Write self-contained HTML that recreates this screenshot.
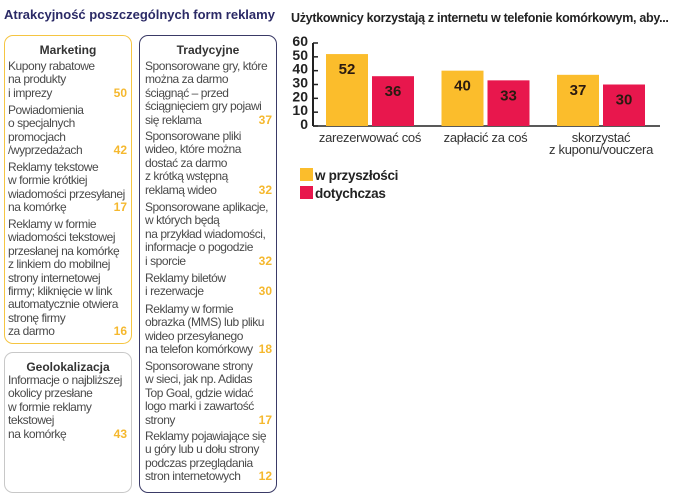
<!DOCTYPE html>
<html><head><meta charset="utf-8"><style>
body{margin:0;width:685px;height:498px;background:#fff;position:relative;overflow:hidden;font-family:"Liberation Sans",sans-serif;}
.box{position:absolute;border:1.5px solid;border-radius:9px;box-sizing:border-box;}
.hd{position:absolute;font-weight:bold;font-size:12px;color:#333;text-align:center;}
.e{position:absolute;font-size:12px;letter-spacing:-0.45px;line-height:13.4px;color:#4a4a4a;white-space:nowrap;}
.n{position:absolute;right:0;bottom:0;font-weight:bold;color:#f5b82e;font-size:12px;letter-spacing:0;}
.t{position:absolute;font-weight:bold;color:#2b2a66;font-size:13px;white-space:nowrap;}
</style></head><body>
<div class="t" style="left:4px;top:7px;">Atrakcyjność poszczególnych form reklamy</div>

<div class="box" style="left:4px;top:35px;width:128px;height:309px;border-color:#f5c542;"></div>
<div class="hd" style="left:4px;width:128px;top:43px;">Marketing</div>
<div class="box" style="left:4px;top:352px;width:128px;height:141px;border-color:#c8c8c8;"></div>
<div class="hd" style="left:4px;width:128px;top:360px;">Geolokalizacja</div>
<div class="box" style="left:139px;top:35px;width:138px;height:458px;border-color:#3a3a66;"></div>
<div class="hd" style="left:139px;width:138px;top:43px;">Tradycyjne</div>

<div class="e" style="left:8px;width:119px;top:60px;">Kupony rabatowe<br>na produkty<br>i imprezy<span class="n">50</span></div>
<div class="e" style="left:8px;width:119px;top:104px;">Powiadomienia<br>o specjalnych<br>promocjach<br>/wyprzedażach<span class="n">42</span></div>
<div class="e" style="left:8px;width:119px;top:161px;">Reklamy tekstowe<br>w formie krótkiej<br>wiadomości przesyłanej<br>na komórkę<span class="n">17</span></div>
<div class="e" style="left:8px;width:119px;top:218px;">Reklamy w formie<br>wiadomości tekstowej<br>przesłanej na komórkę<br>z linkiem do mobilnej<br>strony internetowej<br>firmy; kliknięcie w link<br>automatycznie otwiera<br>stronę firmy<br>za darmo<span class="n">16</span></div>
<div class="e" style="left:8px;width:119px;top:374px;">Informacje o najbliższej<br>okolicy przesłane<br>w formie reklamy<br>tekstowej<br>na komórkę<span class="n">43</span></div>

<div class="e" style="left:145px;width:127px;top:60px;">Sponsorowane gry, które<br>można za darmo<br>ściągnąć – przed<br>ściągnięciem gry pojawi<br>się reklama<span class="n">37</span></div>
<div class="e" style="left:145px;width:127px;top:130px;">Sponsorowane pliki<br>wideo, które można<br>dostać za darmo<br>z krótką wstępną<br>reklamą wideo<span class="n">32</span></div>
<div class="e" style="left:145px;width:127px;top:201px;">Sponsorowane aplikacje,<br>w których będą<br>na przykład wiadomości,<br>informacje o pogodzie<br>i sporcie<span class="n">32</span></div>
<div class="e" style="left:145px;width:127px;top:272px;">Reklamy biletów<br>i rezerwacje<span class="n">30</span></div>
<div class="e" style="left:145px;width:127px;top:303px;">Reklamy w formie<br>obrazka (MMS) lub pliku<br>wideo przesyłanego<br>na telefon komórkowy<span class="n">18</span></div>
<div class="e" style="left:145px;width:127px;top:360px;">Sponsorowane strony<br>w sieci, jak np. Adidas<br>Top Goal, gdzie widać<br>logo marki i zawartość<br>strony<span class="n">17</span></div>
<div class="e" style="left:145px;width:127px;top:430px;">Reklamy pojawiające się<br>u góry lub u dołu strony<br>podczas przeglądania<br>stron internetowych<span class="n">12</span></div>

<div class="t" style="left:291px;top:11px;color:#222;font-size:12.5px;letter-spacing:-0.3px;">Użytkownicy korzystają z internetu w telefonie komórkowym, aby...</div>
<svg id="chart" width="685" height="498" style="position:absolute;left:0;top:0;" font-family="Liberation Sans, sans-serif"></svg>
<script>
const categories=[["zarezerwować coś"],["zapłacić za coś"],["skorzystać","z kuponu/vouczera"]];
const futureValues=[52,40,37];
const pastValues=[36,33,30];
const yTicks=[0,10,20,30,40,50,60];
const seriesNames=["w przyszłości","dotychczas"];
const colors=["#fbbd2c","#e8174d"];
const svg=document.getElementById('chart');
const NS='http://www.w3.org/2000/svg';
const x0=313,x1=660,y0=126,scale=83/60;
const y=v=>y0-v*scale;
const groupX=i=>326+i*115.5;
function mk(t,a,txt){const e=document.createElementNS(NS,t);for(const k in a)e.setAttribute(k,a[k]);if(txt!=null)e.textContent=txt;svg.appendChild(e);return e;}
yTicks.forEach(v=>{
 const l=mk('line',{x1:x0,x2:x0+5,y1:y(v),y2:y(v),stroke:'#222','stroke-width':1.5});
 
 
 const t=mk('text',{x:308,y:y(v)+3,'text-anchor':'end','font-size':14,'font-weight':'bold',fill:'#222'},v);
 
 
});
const ax=mk('line',{x1:x0,x2:x0,y1:y(60),y2:y0,stroke:'#222','stroke-width':2});


const bx=mk('line',{x1:x0,x2:x1,y1:y0,y2:y0,stroke:'#222','stroke-width':1.5});


[futureValues,pastValues].forEach((vals,s)=>{
 vals.forEach((v,i)=>{
  const bxp=groupX(i)+s*46;
  const r=mk('rect',{x:bxp,y:y(v),width:42,height:v*scale,fill:colors[s]});
  
  
  const t=mk('text',{x:bxp+21,y:y(v)+20,'text-anchor':'middle','font-size':15,'font-weight':'bold',fill:'#2a1a10'},v);
  
  
 });
});
categories.forEach((c,i)=>{
 c.forEach((line,j)=>{
  const t=mk('text',{x:groupX(i)+44,y:142+j*12,'text-anchor':'middle','font-size':13,'letter-spacing':-0.3,fill:'#333'},line);
  
  
 });
});
seriesNames.forEach((n,s)=>{
 const r=mk('rect',{x:300,y:168+s*18,width:13,height:13,fill:colors[s]});
 
 
 const t=mk('text',{x:315,y:180+s*18,'font-size':13.5,'font-weight':'bold','letter-spacing':-0.3,fill:'#222'},n);
 
 
});
</script>
</body></html>
